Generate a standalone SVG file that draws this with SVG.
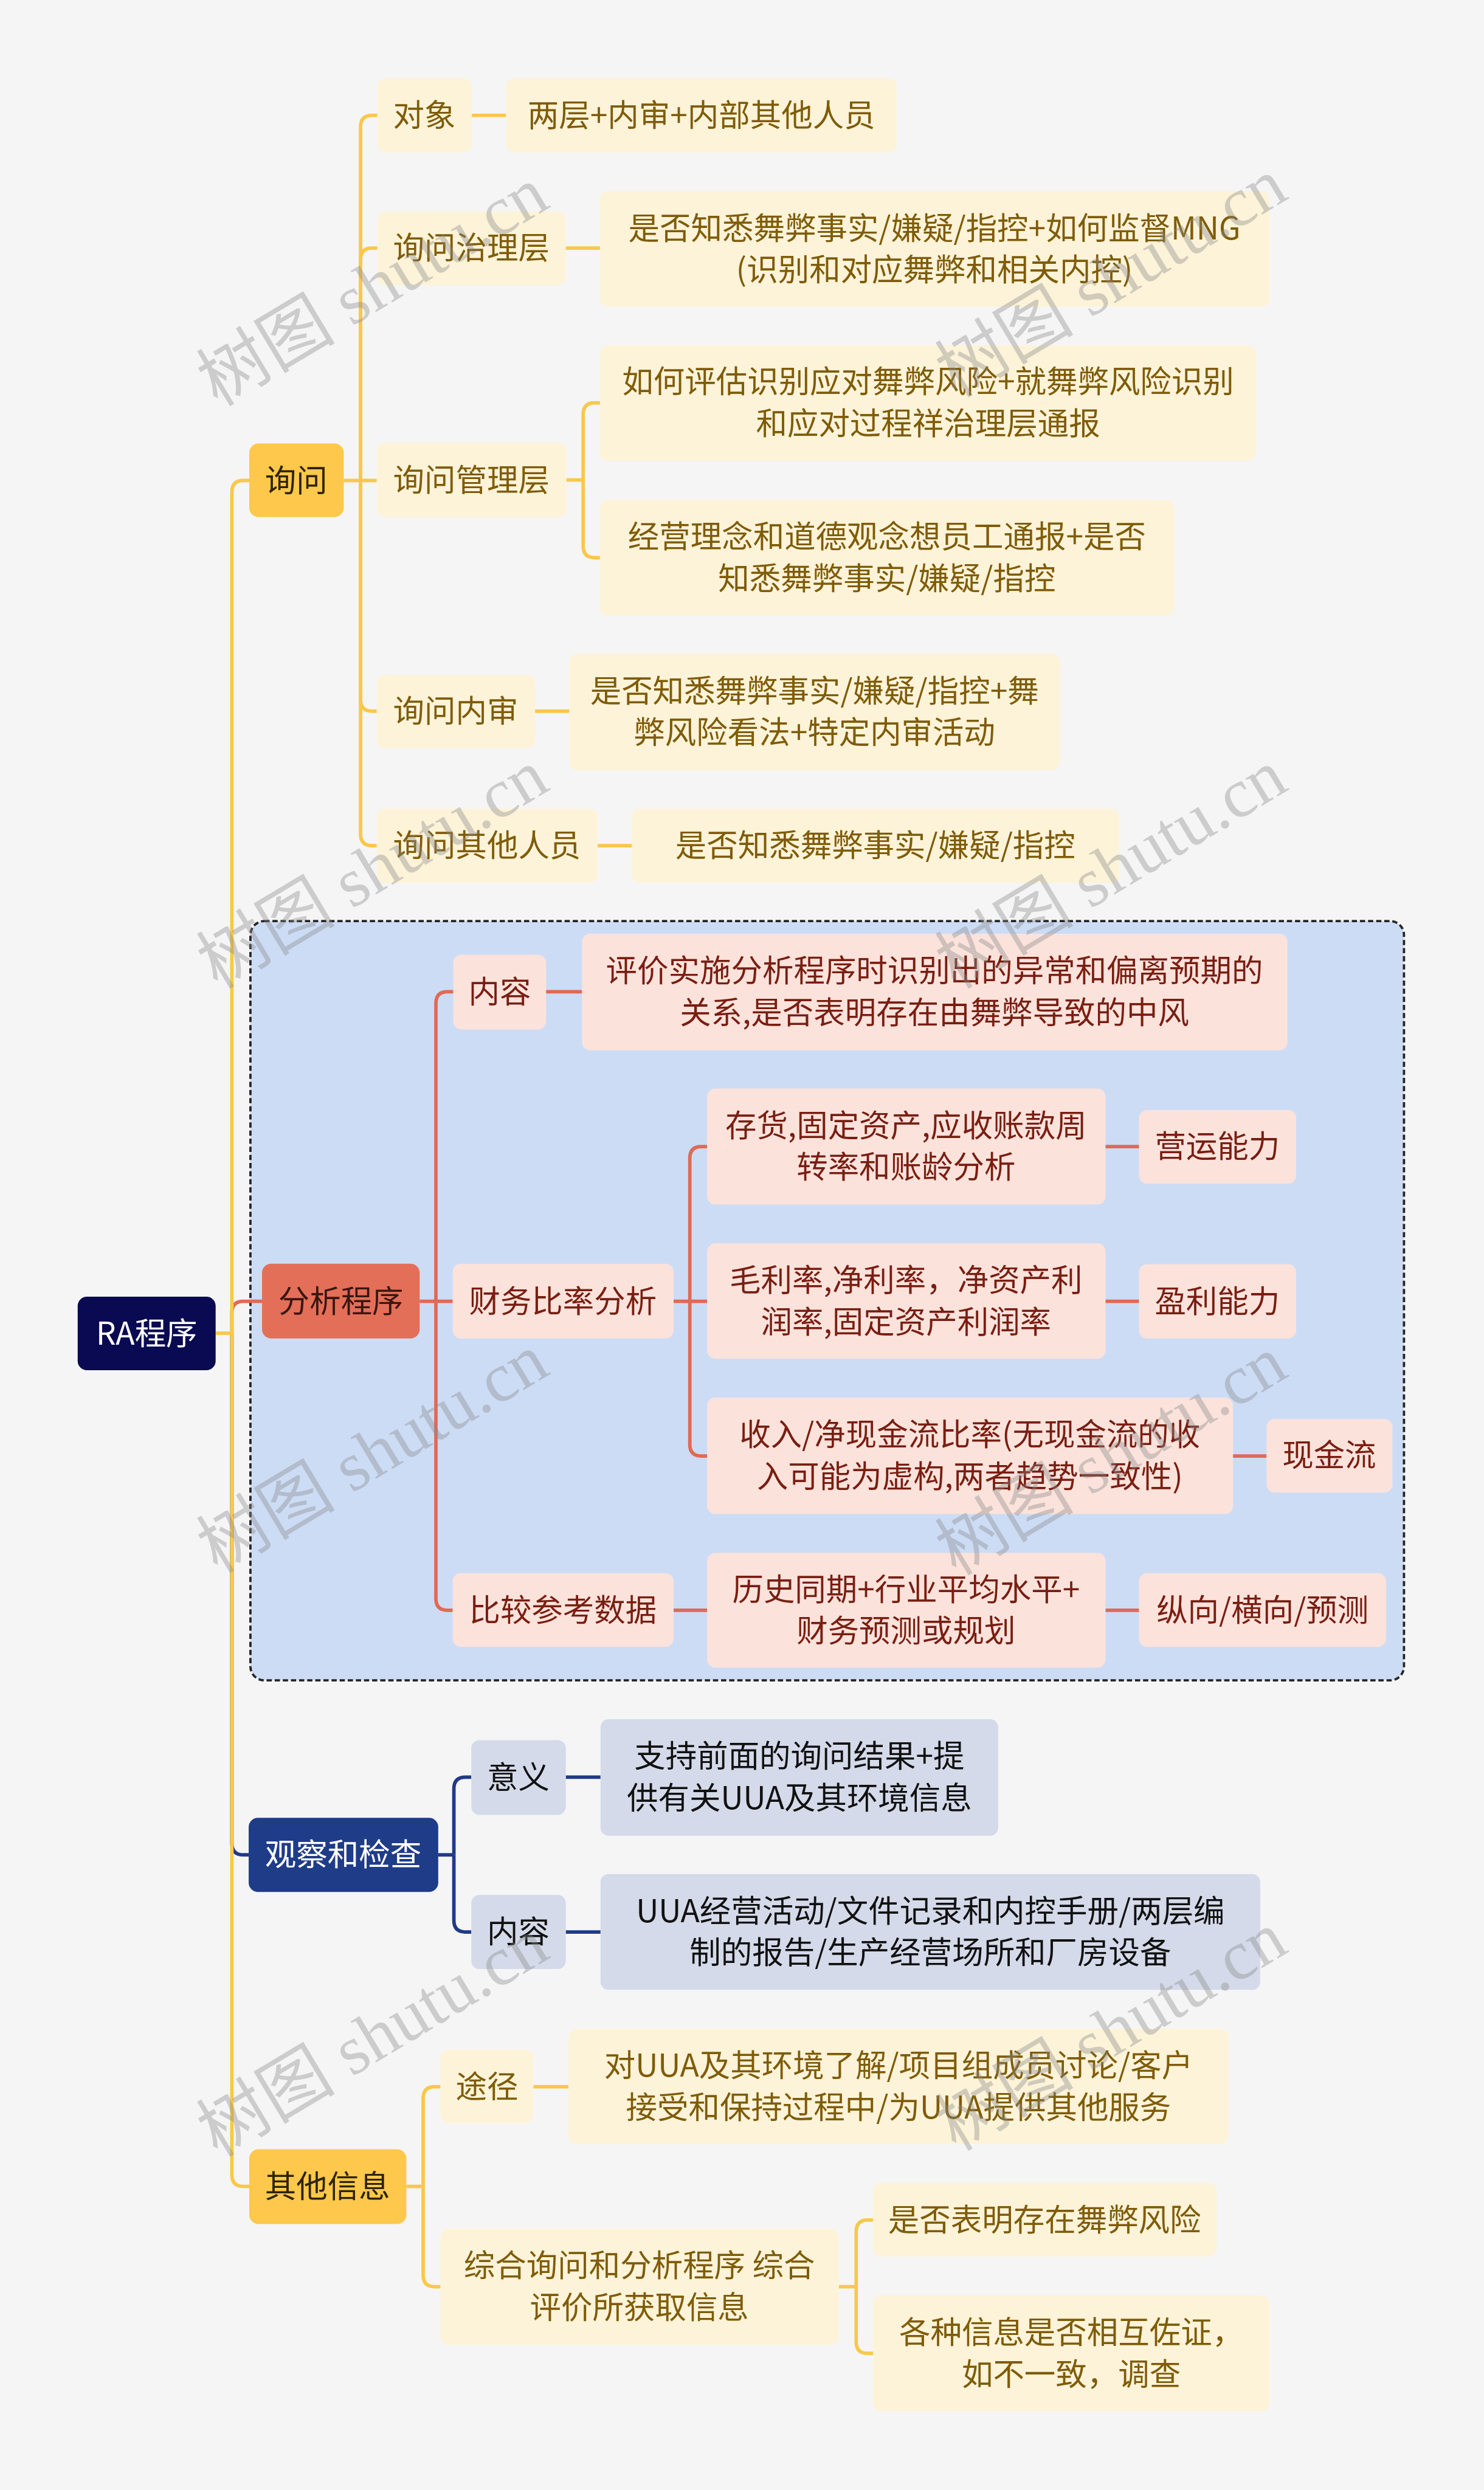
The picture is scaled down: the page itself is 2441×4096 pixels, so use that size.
<svg xmlns="http://www.w3.org/2000/svg" width="2441" height="4096" viewBox="0 0 2441 4096">
<defs>
<style>
text{font-family:"Noto Sans CJK SC","Noto Sans",sans-serif;font-size:54px;text-anchor:middle}
.cy{fill:#fdf3d9}.ty{fill:#7f5c07}
.by{fill:#fdc84b}.tby{fill:#2e2404}
.cp{fill:#fbe3dc}.tp{fill:#7a1e12}
.br{fill:#e46f58}.tbr{fill:#3a1710}
.cl{fill:#d4dae9}.tl{fill:#111111}
.bn{fill:#1f3c88}.tw{fill:#ffffff}
.root{fill:#0a0a52}
.ly{fill:none;stroke:#f9c84a;stroke-width:6}
.lr{fill:none;stroke:#e06a55;stroke-width:6}
.ln{fill:none;stroke:#1f3a86;stroke-width:6}
.wm{font-family:"Liberation Serif","Noto Sans CJK SC",serif;font-size:120px;fill:#8a8a8a;opacity:0.38}
</style>
</defs>
<rect width="2441" height="4096" fill="#f5f5f5"/>
<g transform="scale(0.9535)">
<rect id="group-frame" x="432" y="1589" width="1990" height="1310" rx="24" fill="#cddcf5" stroke="#262626" stroke-width="4" stroke-dasharray="9 5"/>
<g id="connectors">
<path class="lr" d="M400 2300 V2265 Q400 2245 420 2245 H452"/>
<path class="ln" d="M400 2300 V3180 Q400 3200 420 3200 H429"/>
<path class="ly" d="M372 2300 H400"/>
<path class="ly" d="M400 2300 V849 Q400 829 420 829 H430"/>
<path class="ly" d="M400 2300 V3752 Q400 3772 420 3772 H430"/>
<path class="ly" d="M593 829 H650"/>
<path class="ly" d="M622 829 V219 Q622 199 642 199 H651"/>
<path class="ly" d="M622 829 V448 Q622 428 642 428 H651"/>
<path class="ly" d="M622 829 V1207 Q622 1227 642 1227 H650"/>
<path class="ly" d="M622 829 V1439 Q622 1459 642 1459 H650"/>
<path class="ly" d="M814 199 H873"/>
<path class="ly" d="M976 428 H1035"/>
<path class="ly" d="M977 828 H1006"/>
<path class="ly" d="M1006 828 V715 Q1006 695 1026 695 H1035"/>
<path class="ly" d="M1006 828 V942 Q1006 962 1026 962 H1035"/>
<path class="ly" d="M923 1227 H982"/>
<path class="ly" d="M1031 1459 H1090"/>
<path class="lr" d="M724 2245 H781"/>
<path class="lr" d="M752 2245 V1731 Q752 1711 772 1711 H782"/>
<path class="lr" d="M752 2245 V2758 Q752 2778 772 2778 H781"/>
<path class="lr" d="M942 1711 H1004"/>
<path class="lr" d="M1162 2245 H1220"/>
<path class="lr" d="M1190 2245 V1998 Q1190 1978 1210 1978 H1220"/>
<path class="lr" d="M1190 2245 V2492 Q1190 2512 1210 2512 H1220"/>
<path class="lr" d="M1907 1978 H1965"/>
<path class="lr" d="M1907 2245 H1965"/>
<path class="lr" d="M2127 2512 H2185"/>
<path class="lr" d="M1162 2778 H1220"/>
<path class="lr" d="M1907 2778 H1965"/>
<path class="ln" d="M756 3200 H783"/>
<path class="ln" d="M783 3200 V3086 Q783 3066 803 3066 H813"/>
<path class="ln" d="M783 3200 V3313 Q783 3333 803 3333 H813"/>
<path class="ln" d="M976 3066 H1036"/>
<path class="ln" d="M976 3333 H1036"/>
<path class="ly" d="M701 3772 H730"/>
<path class="ly" d="M730 3772 V3620 Q730 3600 750 3600 H760"/>
<path class="ly" d="M730 3772 V3925 Q730 3945 750 3945 H760"/>
<path class="ly" d="M920 3600 H981"/>
<path class="ly" d="M1447 3945 H1477"/>
<path class="ly" d="M1477 3945 V3850 Q1477 3830 1497 3830 H1506"/>
<path class="ly" d="M1477 3945 V4040 Q1477 4060 1497 4060 H1506"/>
</g>
<g id="root"><rect class="root" x="134" y="2237" width="238" height="127" rx="16"/><text class="tw" x="253" y="2320">RA程序</text></g>
<g id="xunwen"><rect class="by" x="430" y="765" width="163" height="127" rx="16"/><text class="tby" x="511" y="848">询问</text></g>
<g id="duixiang"><rect class="cy" x="651" y="135" width="163" height="128" rx="14"/><text class="ty" x="732" y="218">对象</text></g>
<g id="duixiang-c"><rect class="cy" x="873" y="135" width="674" height="128" rx="14"/><text class="ty" x="1210" y="218">两层+内审+内部其他人员</text></g>
<g id="zhili"><rect class="cy" x="651" y="365" width="325" height="127" rx="14"/><text class="ty" x="813" y="447">询问治理层</text></g>
<g id="zhili-c"><rect class="cy" x="1035" y="330" width="1155" height="199" rx="14"/><text class="ty"><tspan x="1612" y="413">是否知悉舞弊事实/嫌疑/指控+如何监督MNG</tspan><tspan x="1612" y="485">(识别和对应舞弊和相关内控)</tspan></text></g>
<g id="guanli"><rect class="cy" x="650" y="764" width="327" height="128" rx="14"/><text class="ty" x="813" y="847">询问管理层</text></g>
<g id="guanli-c1"><rect class="cy" x="1035" y="596" width="1132" height="199" rx="14"/><text class="ty"><tspan x="1601" y="678">如何评估识别应对舞弊风险+就舞弊风险识别</tspan><tspan x="1601" y="750">和应对过程祥治理层通报</tspan></text></g>
<g id="guanli-c2"><rect class="cy" x="1035" y="863" width="991" height="199" rx="14"/><text class="ty"><tspan x="1530" y="945">经营理念和道德观念想员工通报+是否</tspan><tspan x="1530" y="1017">知悉舞弊事实/嫌疑/指控</tspan></text></g>
<g id="neishen"><rect class="cy" x="650" y="1164" width="273" height="127" rx="14"/><text class="ty" x="786" y="1246">询问内审</text></g>
<g id="neishen-c"><rect class="cy" x="982" y="1128" width="847" height="201" rx="14"/><text class="ty"><tspan x="1405" y="1211">是否知悉舞弊事实/嫌疑/指控+舞</tspan><tspan x="1405" y="1283">弊风险看法+特定内审活动</tspan></text></g>
<g id="qita"><rect class="cy" x="650" y="1395" width="381" height="128" rx="14"/><text class="ty" x="840" y="1478">询问其他人员</text></g>
<g id="qita-c"><rect class="cy" x="1090" y="1395" width="841" height="128" rx="14"/><text class="ty" x="1510" y="1478">是否知悉舞弊事实/嫌疑/指控</text></g>
<g id="fenxi"><rect class="br" x="452" y="2180" width="272" height="129" rx="16"/><text class="tbr" x="588" y="2264">分析程序</text></g>
<g id="neirong1"><rect class="cp" x="782" y="1647" width="160" height="129" rx="14"/><text class="tp" x="862" y="1730">内容</text></g>
<g id="neirong1-c"><rect class="cp" x="1004" y="1611" width="1217" height="201" rx="14"/><text class="tp"><tspan x="1612" y="1694">评价实施分析程序时识别出的异常和偏离预期的</tspan><tspan x="1612" y="1766">关系,是否表明存在由舞弊导致的中风</tspan></text></g>
<g id="caiwu"><rect class="cp" x="781" y="2180" width="381" height="129" rx="14"/><text class="tp" x="971" y="2264">财务比率分析</text></g>
<g id="cunhuo"><rect class="cp" x="1220" y="1878" width="687" height="200" rx="14"/><text class="tp"><tspan x="1563" y="1961">存货,固定资产,应收账款周</tspan><tspan x="1563" y="2033">转率和账龄分析</tspan></text></g>
<g id="yingyun"><rect class="cp" x="1965" y="1915" width="271" height="127" rx="14"/><text class="tp" x="2100" y="1997">营运能力</text></g>
<g id="maoli"><rect class="cp" x="1220" y="2145" width="687" height="199" rx="14"/><text class="tp"><tspan x="1563" y="2228">毛利率,净利率，净资产利</tspan><tspan x="1563" y="2300">润率,固定资产利润率</tspan></text></g>
<g id="yingli"><rect class="cp" x="1965" y="2181" width="271" height="128" rx="14"/><text class="tp" x="2100" y="2264">盈利能力</text></g>
<g id="shouru"><rect class="cp" x="1220" y="2411" width="907" height="201" rx="14"/><text class="tp"><tspan x="1673" y="2494">收入/净现金流比率(无现金流的收</tspan><tspan x="1673" y="2566">入可能为虚构,两者趋势一致性)</tspan></text></g>
<g id="xianjinliu"><rect class="cp" x="2185" y="2448" width="217" height="127" rx="14"/><text class="tp" x="2293" y="2530">现金流</text></g>
<g id="bijiao"><rect class="cp" x="781" y="2714" width="381" height="127" rx="14"/><text class="tp" x="971" y="2797">比较参考数据</text></g>
<g id="lishi"><rect class="cp" x="1220" y="2679" width="687" height="198" rx="14"/><text class="tp"><tspan x="1563" y="2761">历史同期+行业平均水平+</tspan><tspan x="1563" y="2833">财务预测或规划</tspan></text></g>
<g id="zongxiang"><rect class="cp" x="1965" y="2714" width="426" height="127" rx="14"/><text class="tp" x="2178" y="2797">纵向/横向/预测</text></g>
<g id="guancha"><rect class="bn" x="429" y="3136" width="327" height="128" rx="16"/><text class="tw" x="592" y="3219">观察和检查</text></g>
<g id="yiyi"><rect class="cl" x="813" y="3002" width="163" height="129" rx="14"/><text class="tl" x="894" y="3085">意义</text></g>
<g id="yiyi-c"><rect class="cl" x="1036" y="2966" width="686" height="201" rx="14"/><text class="tl"><tspan x="1379" y="3049">支持前面的询问结果+提</tspan><tspan x="1379" y="3121">供有关UUA及其环境信息</tspan></text></g>
<g id="neirong2"><rect class="cl" x="813" y="3269" width="163" height="128" rx="14"/><text class="tl" x="894" y="3352">内容</text></g>
<g id="neirong2-c"><rect class="cl" x="1036" y="3233" width="1138" height="200" rx="14"/><text class="tl"><tspan x="1605" y="3316">UUA经营活动/文件记录和内控手册/两层编</tspan><tspan x="1605" y="3388">制的报告/生产经营场所和厂房设备</tspan></text></g>
<g id="qitaxinxi"><rect class="by" x="430" y="3708" width="271" height="129" rx="16"/><text class="tby" x="565" y="3791">其他信息</text></g>
<g id="tujing"><rect class="cy" x="760" y="3536" width="160" height="127" rx="14"/><text class="ty" x="840" y="3619">途径</text></g>
<g id="tujing-c"><rect class="cy" x="981" y="3500" width="1138" height="199" rx="14"/><text class="ty"><tspan x="1550" y="3583">对UUA及其环境了解/项目组成员讨论/客户</tspan><tspan x="1550" y="3655">接受和保持过程中/为UUA提供其他服务</tspan></text></g>
<g id="zonghe"><rect class="cy" x="760" y="3845" width="687" height="200" rx="14"/><text class="ty"><tspan x="1103" y="3928">综合询问和分析程序 综合</tspan><tspan x="1103" y="4000">评价所获取信息</tspan></text></g>
<g id="wubi"><rect class="cy" x="1506" y="3766" width="593" height="127" rx="14"/><text class="ty" x="1802" y="3849">是否表明存在舞弊风险</text></g>
<g id="gezhong"><rect class="cy" x="1506" y="3960" width="684" height="200" rx="14"/><text class="ty"><tspan x="1848" y="4043">各种信息是否相互佐证，</tspan><tspan x="1848" y="4115">如不一致，调查</tspan></text></g>
<g id="watermarks">
<text class="wm" transform="translate(643 495) rotate(-31)" y="40">树图 shutu.cn</text>
<text class="wm" transform="translate(1917 480) rotate(-31)" y="40">树图 shutu.cn</text>
<text class="wm" transform="translate(643 1500) rotate(-31)" y="40">树图 shutu.cn</text>
<text class="wm" transform="translate(1917 1500) rotate(-31)" y="40">树图 shutu.cn</text>
<text class="wm" transform="translate(643 2508) rotate(-31)" y="40">树图 shutu.cn</text>
<text class="wm" transform="translate(1917 2512) rotate(-31)" y="40">树图 shutu.cn</text>
<text class="wm" transform="translate(643 3515) rotate(-31)" y="40">树图 shutu.cn</text>
<text class="wm" transform="translate(1917 3505) rotate(-31)" y="40">树图 shutu.cn</text>
</g>
</g>
</svg>
